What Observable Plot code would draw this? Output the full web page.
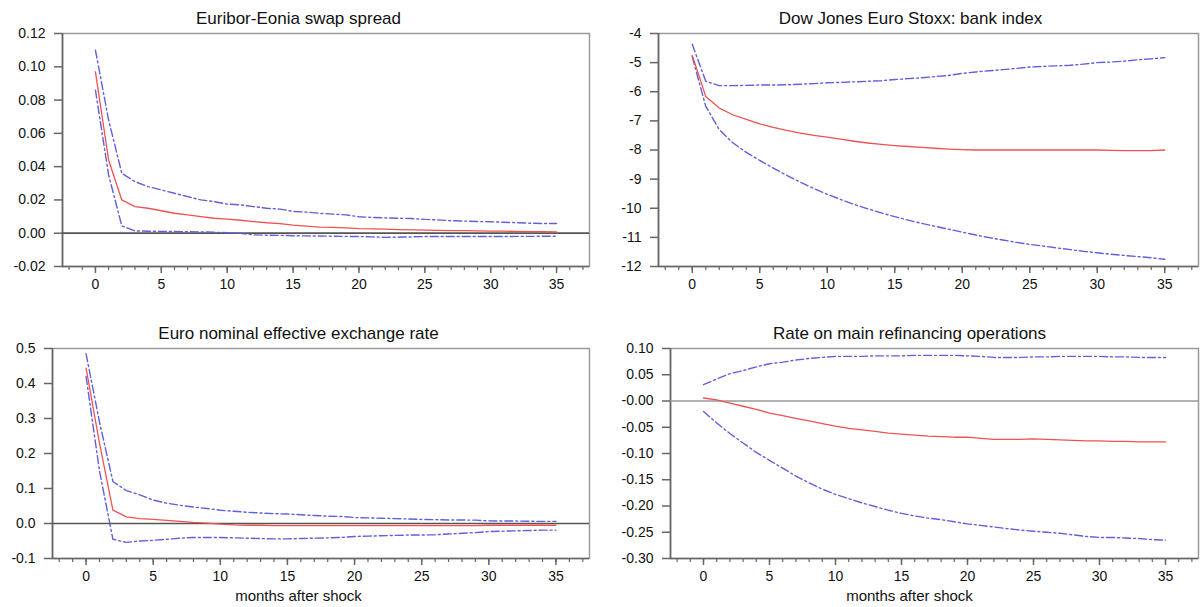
<!DOCTYPE html>
<html>
<head>
<meta charset="utf-8">
<script src="https://cdn.jsdelivr.net/npm/d3@7"></script>
<script src="https://cdn.jsdelivr.net/npm/@observablehq/plot@0.6"></script>
<style>
  body { margin: 0; background: #fff; }
  #wrap { position: relative; width: 1200px; height: 607px; overflow: hidden; background: #fff; }
  #wrap svg { position: absolute; }
</style>
</head>
<body>
<div id="wrap"></div>
<script>
// ---------- data ----------
const months = [0,1,2,3,4,5,6,7,8,9,10,11,12,13,14,15,16,17,18,19,20,21,22,23,24,25,26,27,28,29,30,31,32,33,34,35];
const xMajor = [0,5,10,15,20,25,30,35];
const xMinor = [-2,-1,0,1,2,3,4,5,6,7,8,9,10,11,12,13,14,15,16,17,18,19,20,21,22,23,24,25,26,27,28,29,30,31,32,33,34,35,36,37];
const xDomain = [-2.5, 37.5];
const xLabel = "months after shock";

// Panel 1: Euribor-Eonia swap spread
const title1 = "Euribor-Eonia swap spread";
const mid1 = [0.097,0.044,0.020,0.016,0.015,0.0135,0.012,0.011,0.010,0.009,0.0085,0.0078,0.007,0.0063,0.0058,0.0048,0.0043,0.0037,0.0035,0.0032,0.0028,0.0026,0.0024,0.0022,0.0020,0.0018,0.0017,0.0016,0.0015,0.0014,0.0013,0.0012,0.0011,0.0010,0.0009,0.0008];
const hi1 = [0.110,0.068,0.036,0.031,0.028,0.026,0.024,0.022,0.020,0.019,0.0175,0.017,0.016,0.015,0.0145,0.0131,0.0127,0.012,0.0115,0.011,0.0099,0.0095,0.0092,0.009,0.0088,0.0083,0.008,0.0075,0.0073,0.007,0.0069,0.0066,0.0063,0.006,0.0058,0.0058];
const lo1 = [0.086,0.035,0.0044,0.0014,0.0012,0.0011,0.001,0.0009,0.0008,0.0006,0.0003,0.0,-0.001,-0.0012,-0.0013,-0.0015,-0.0016,-0.0017,-0.0018,-0.0019,-0.002,-0.0022,-0.0025,-0.0024,-0.0022,-0.002,-0.002,-0.002,-0.002,-0.002,-0.002,-0.002,-0.0019,-0.0019,-0.0018,-0.0018];
const yDomain1 = [-0.02, 0.12];
const yTicks1 = [0.12,0.10,0.08,0.06,0.04,0.02,0.00,-0.02];
const yLabels1 = ["0.12","0.10","0.08","0.06","0.04","0.02","0.00","-0.02"];

// Panel 2: Dow Jones Euro Stoxx: bank index
const title2 = "Dow Jones Euro Stoxx: bank index";
const mid2 = [-4.75,-6.16,-6.56,-6.79,-6.95,-7.10,-7.22,-7.33,-7.42,-7.50,-7.56,-7.63,-7.70,-7.76,-7.81,-7.85,-7.88,-7.91,-7.94,-7.97,-7.99,-8.0,-8.0,-8.0,-8.0,-8.0,-8.0,-8.0,-8.0,-8.0,-8.0,-8.01,-8.02,-8.02,-8.02,-8.0];
const hi2 = [-4.37,-5.64,-5.79,-5.79,-5.78,-5.77,-5.77,-5.76,-5.74,-5.72,-5.69,-5.68,-5.66,-5.64,-5.62,-5.58,-5.55,-5.52,-5.48,-5.44,-5.37,-5.32,-5.28,-5.24,-5.20,-5.15,-5.13,-5.11,-5.09,-5.05,-5.0,-4.98,-4.95,-4.90,-4.87,-4.83];
const lo2 = [-4.8,-6.5,-7.3,-7.75,-8.08,-8.36,-8.62,-8.87,-9.1,-9.32,-9.52,-9.7,-9.87,-10.02,-10.16,-10.29,-10.41,-10.52,-10.62,-10.72,-10.82,-10.92,-11.01,-11.09,-11.17,-11.24,-11.3,-11.36,-11.42,-11.48,-11.53,-11.58,-11.62,-11.66,-11.7,-11.75];
const yDomain2 = [-12, -4];
const yTicks2 = [-4,-5,-6,-7,-8,-9,-10,-11,-12];
const yLabels2 = ["-4","-5","-6","-7","-8","-9","-10","-11","-12"];

// Panel 3: Euro nominal effective exchange rate
const title3 = "Euro nominal effective exchange rate";
const mid3 = [0.444,0.23,0.038,0.019,0.014,0.012,0.009,0.006,0.003,0.001,-0.002,-0.004,-0.005,-0.005,-0.006,-0.006,-0.006,-0.006,-0.006,-0.006,-0.006,-0.006,-0.006,-0.006,-0.006,-0.006,-0.006,-0.006,-0.006,-0.006,-0.005,-0.005,-0.005,-0.005,-0.005,-0.005];
const hi3 = [0.485,0.29,0.12,0.094,0.082,0.067,0.058,0.052,0.047,0.043,0.038,0.035,0.032,0.030,0.028,0.027,0.025,0.023,0.021,0.020,0.017,0.016,0.015,0.014,0.013,0.0115,0.011,0.010,0.010,0.0095,0.0076,0.007,0.007,0.0065,0.006,0.006];
const lo3 = [0.42,0.15,-0.045,-0.054,-0.050,-0.048,-0.045,-0.042,-0.040,-0.040,-0.040,-0.041,-0.042,-0.043,-0.044,-0.044,-0.043,-0.042,-0.041,-0.040,-0.037,-0.036,-0.035,-0.034,-0.033,-0.033,-0.032,-0.030,-0.028,-0.026,-0.023,-0.022,-0.021,-0.020,-0.019,-0.019];
const yDomain3 = [-0.1, 0.5];
const yTicks3 = [0.5,0.4,0.3,0.2,0.1,0.0,-0.1];
const yLabels3 = ["0.5","0.4","0.3","0.2","0.1","0.0","-0.1"];

// Panel 4: Rate on main refinancing operations
const title4 = "Rate on main refinancing operations";
const mid4 = [0.0057,0.002,-0.004,-0.010,-0.016,-0.023,-0.028,-0.033,-0.038,-0.043,-0.048,-0.052,-0.055,-0.058,-0.061,-0.063,-0.065,-0.067,-0.068,-0.069,-0.069,-0.071,-0.073,-0.073,-0.073,-0.072,-0.073,-0.074,-0.075,-0.076,-0.076,-0.077,-0.077,-0.078,-0.078,-0.078];
const hi4 = [0.031,0.042,0.052,0.058,0.065,0.071,0.074,0.078,0.081,0.083,0.085,0.085,0.085,0.086,0.086,0.086,0.087,0.087,0.087,0.087,0.086,0.085,0.083,0.083,0.083,0.084,0.084,0.085,0.085,0.085,0.085,0.084,0.084,0.083,0.083,0.083];
const lo4 = [-0.020,-0.042,-0.062,-0.080,-0.098,-0.113,-0.128,-0.143,-0.156,-0.168,-0.178,-0.186,-0.194,-0.201,-0.208,-0.214,-0.219,-0.223,-0.226,-0.230,-0.234,-0.237,-0.240,-0.243,-0.246,-0.248,-0.250,-0.252,-0.255,-0.258,-0.260,-0.260,-0.261,-0.262,-0.264,-0.265];
const yDomain4 = [-0.30, 0.10];
const yTicks4 = [0.10,0.05,0.00,-0.05,-0.10,-0.15,-0.20,-0.25,-0.30];
const yLabels4 = ["0.10","0.05","-0.00","-0.05","-0.10","-0.15","-0.20","-0.25","-0.30"];

// ---------- style ----------
const RED = "#ee5252";
const BLUE = "#6060da";
const DASH = "8,3,2,3";
const FONT = "'Liberation Sans', Arial, sans-serif";

function panel(cfg) {
  const data = months.map((m, i) => ({x: m, lo: cfg.lo[i], mid: cfg.mid[i], hi: cfg.hi[i]}));
  const marks = [
    Plot.frame({stroke: "#9a9a9a", strokeWidth: 1.5}),
    Plot.ruleX([xDomain[0]], {stroke: "#666", strokeWidth: 1.6}),
    Plot.ruleY([cfg.yDomain[0]], {stroke: "#666", strokeWidth: 1.6}),
    Plot.axisY({ticks: cfg.yTicks, tickFormat: d => cfg.yLabels[cfg.yTicks.indexOf(d)],
      tickSize: 8, tickPadding: 9, stroke: "#666", strokeWidth: 1.5, fill: "#111", fontSize: 14, label: null}),
    Plot.axisX({ticks: xMinor, tickFormat: () => "", tickSize: 4, stroke: "#666", strokeWidth: 1.2, label: null}),
    Plot.axisX({ticks: xMajor, tickSize: 7, tickPadding: 6, stroke: "#666", strokeWidth: 1.5, fill: "#111", fontSize: 14, label: null})
  ];
  if (cfg.zeroColor) marks.push(Plot.ruleY([0], {stroke: cfg.zeroColor, strokeWidth: 1.7}));
  marks.push(
    Plot.line(data, {x: "x", y: "hi", stroke: BLUE, strokeWidth: 1.4, strokeDasharray: DASH}),
    Plot.line(data, {x: "x", y: "lo", stroke: BLUE, strokeWidth: 1.4, strokeDasharray: DASH}),
    Plot.line(data, {x: "x", y: "mid", stroke: RED, strokeWidth: 1.3}),
    Plot.text([cfg.title], {text: d => d, frameAnchor: "top-left", dx: cfg.titleX - cfg.ml, dy: -15,
      textAnchor: "middle", lineAnchor: "middle", fontSize: 17, fill: "#111"})
  );
  if (cfg.xlabel) marks.push(
    Plot.text([cfg.xlabel], {text: d => d, frameAnchor: "bottom-left", dx: cfg.titleX - cfg.ml, dy: 38,
      textAnchor: "middle", lineAnchor: "middle", fontSize: 15, fill: "#111"})
  );
  const svg = Plot.plot({
    width: cfg.w, height: cfg.h,
    marginLeft: cfg.ml, marginRight: cfg.mr, marginTop: cfg.mt, marginBottom: cfg.mb,
    x: {domain: xDomain, label: null},
    y: {domain: cfg.yDomain, label: null},
    style: {fontFamily: FONT, fontSize: "14px", color: "#111", background: "transparent", overflow: "visible"},
    marks
  });
  svg.style.left = cfg.left + "px";
  svg.style.top = cfg.top + "px";
  document.getElementById("wrap").appendChild(svg);
}

panel({title: title1, mid: mid1, hi: hi1, lo: lo1, yDomain: yDomain1, yTicks: yTicks1, yLabels: yLabels1,
  zeroColor: "#555", left: 0, top: 0, w: 600, h: 300, ml: 62, mr: 11, mt: 33, mb: 34, titleX: 298});
panel({title: title2, mid: mid2, hi: hi2, lo: lo2, yDomain: yDomain2, yTicks: yTicks2, yLabels: yLabels2,
  zeroColor: null, left: 600, top: 0, w: 600, h: 300, ml: 58, mr: 2, mt: 33, mb: 34, titleX: 310});
panel({title: title3, mid: mid3, hi: hi3, lo: lo3, yDomain: yDomain3, yTicks: yTicks3, yLabels: yLabels3,
  zeroColor: "#555", left: 0, top: 300, w: 600, h: 307, ml: 52, mr: 11, mt: 48, mb: 49, titleX: 298, xlabel: xLabel});
panel({title: title4, mid: mid4, hi: hi4, lo: lo4, yDomain: yDomain4, yTicks: yTicks4, yLabels: yLabels4,
  zeroColor: "#999", left: 600, top: 300, w: 600, h: 307, ml: 70, mr: 2, mt: 48, mb: 49, titleX: 309, xlabel: xLabel});
</script>
</body>
</html>
